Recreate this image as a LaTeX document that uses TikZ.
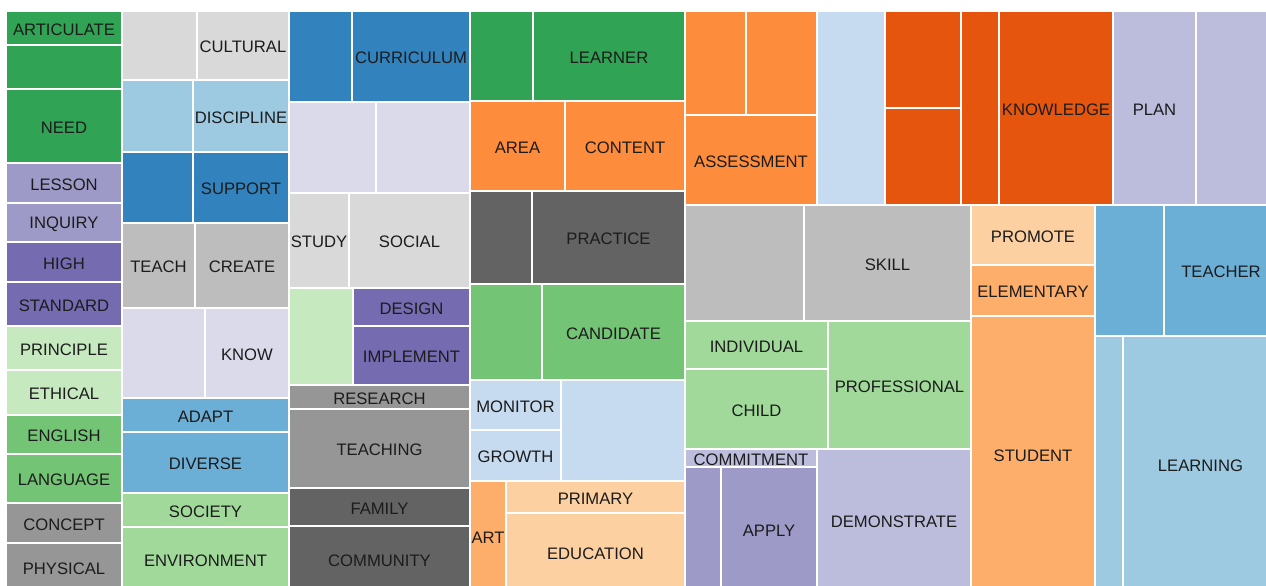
\documentclass[tikz,border=0pt]{standalone}
\usepackage{tikz}
\usepackage{xcolor}
\usepackage{fontspec}
\newfontfamily\arialfont{Liberation Sans}
\usetikzlibrary{backgrounds,calc,positioning}

\definecolor{bluA}{HTML}{3182BD}
\definecolor{bluB}{HTML}{6BAED6}
\definecolor{bluC}{HTML}{9ECAE1}
\definecolor{bluD}{HTML}{C6DBEF}
\definecolor{orgA}{HTML}{E6550D}
\definecolor{orgB}{HTML}{FD8D3C}
\definecolor{orgC}{HTML}{FDAE6B}
\definecolor{orgD}{HTML}{FDD0A2}
\definecolor{grnA}{HTML}{31A354}
\definecolor{grnB}{HTML}{74C476}
\definecolor{grnC}{HTML}{A1D99B}
\definecolor{grnD}{HTML}{C7E9C0}
\definecolor{purA}{HTML}{756BB1}
\definecolor{purB}{HTML}{9E9AC8}
\definecolor{purC}{HTML}{BCBDDC}
\definecolor{purD}{HTML}{DADAEB}
\definecolor{gryA}{HTML}{636363}
\definecolor{gryB}{HTML}{969696}
\definecolor{gryC}{HTML}{BDBDBD}
\definecolor{gryD}{HTML}{D9D9D9}
\definecolor{txtdark}{HTML}{1C1C1C}

\begin{document}
\begin{tikzpicture}[x=0.03cm, y=-0.03cm,
		cell/.style={draw=white, line width=0.9pt},
		lbl/.style={font=\arialfont\fontsize{14.2}{16}\selectfont, text=txtdark, inner sep=0pt, yshift=-1.2pt}]
		\useasboundingbox (0,0) rectangle (1266,585);
		\clip (0,0) rectangle (1266,585);
		\begin{scope}
			\draw[cell, fill=grnA] (6,11) rectangle (122,45);
			\draw[cell, fill=grnA] (6,45) rectangle (122,89);
			\draw[cell, fill=grnA] (6,89) rectangle (122,163);
			\draw[cell, fill=purB] (6,163) rectangle (122,203);
			\draw[cell, fill=purB] (6,203) rectangle (122,242);
			\draw[cell, fill=purA] (6,242) rectangle (122,282);
			\draw[cell, fill=purA] (6,282) rectangle (122,326);
			\draw[cell, fill=grnD] (6,326) rectangle (122,370);
			\draw[cell, fill=grnD] (6,370) rectangle (122,415);
			\draw[cell, fill=grnB] (6,415) rectangle (122,454);
			\draw[cell, fill=grnB] (6,454) rectangle (122,503);
			\draw[cell, fill=gryB] (6,503) rectangle (122,543);
			\draw[cell, fill=gryB] (6,543) rectangle (122,592);
			\node[lbl] (articulate) at (64,28) {ARTICULATE};
			\node[lbl] (need) at (64,126) {NEED};
			\node[lbl] (lesson) at (64,183) {LESSON};
			\node[lbl] (inquiry) at (64,222.5) {INQUIRY};
			\node[lbl] (high) at (64,262) {HIGH};
			\node[lbl] (standard) at (64,304) {STANDARD};
			\node[lbl] (principle) at (64,348) {PRINCIPLE};
			\node[lbl] (ethical) at (64,392.5) {ETHICAL};
			\node[lbl] (english) at (64,434.5) {ENGLISH};
			\node[lbl] (language) at (64,478.5) {LANGUAGE};
			\node[lbl] (concept) at (64,523) {CONCEPT};
			\node[lbl] (physical) at (64,567.5) {PHYSICAL};

			\draw[cell, fill=gryD] (122,11) rectangle (197,80);
			\draw[cell, fill=gryD] (197,11) rectangle (289,80);
			\draw[cell, fill=bluC] (122,80) rectangle (193,152);
			\draw[cell, fill=bluC] (193,80) rectangle (289,152);
			\draw[cell, fill=bluA] (122,152) rectangle (193,223);
			\draw[cell, fill=bluA] (193,152) rectangle (289,223);
			\draw[cell, fill=gryC] (122,223) rectangle (195,308);
			\draw[cell, fill=gryC] (195,223) rectangle (289,308);
			\draw[cell, fill=purD] (122,308) rectangle (205,398);
			\draw[cell, fill=purD] (205,308) rectangle (289,398);
			\draw[cell, fill=bluB] (122,398) rectangle (289,432);
			\draw[cell, fill=bluB] (122,432) rectangle (289,493);
			\draw[cell, fill=grnC] (122,493) rectangle (289,527);
			\draw[cell, fill=grnC] (122,527) rectangle (289,592);
			\node[lbl] (cultural) at (243,45.5) {CULTURAL};
			\node[lbl] (discipline) at (241,116) {DISCIPLINE};
			\node[lbl] (support) at (241,187.5) {SUPPORT};
			\node[lbl] (teach) at (158.5,265.5) {TEACH};
			\node[lbl] (create) at (242,265.5) {CREATE};
			\node[lbl] (know) at (247,353) {KNOW};
			\node[lbl] (adapt) at (205.5,415) {ADAPT};
			\node[lbl] (diverse) at (205.5,462.5) {DIVERSE};
			\node[lbl] (society) at (205.5,510) {SOCIETY};
			\node[lbl] (environment) at (205.5,559.5) {ENVIRONMENT};

			\draw[cell, fill=bluA] (289,11) rectangle (352,102);
			\draw[cell, fill=bluA] (352,11) rectangle (470,102);
			\draw[cell, fill=purD] (289,102) rectangle (376,193);
			\draw[cell, fill=purD] (376,102) rectangle (470,193);
			\draw[cell, fill=gryD] (289,193) rectangle (349,288);
			\draw[cell, fill=gryD] (349,193) rectangle (470,288);
			\draw[cell, fill=grnD] (289,288) rectangle (353,385);
			\draw[cell, fill=purA] (353,288) rectangle (470,326);
			\draw[cell, fill=purA] (353,326) rectangle (470,385);
			\draw[cell, fill=gryB] (289,385) rectangle (470,409);
			\draw[cell, fill=gryB] (289,409) rectangle (470,488);
			\draw[cell, fill=gryA] (289,488) rectangle (470,526);
			\draw[cell, fill=gryA] (289,526) rectangle (470,592);
			\node[lbl] (curriculum) at (411,56.5) {CURRICULUM};
			\node[lbl] (study) at (319,240.5) {STUDY};
			\node[lbl] (social) at (409.5,240.5) {SOCIAL};
			\node[lbl] (design) at (411.5,307) {DESIGN};
			\node[lbl] (implement) at (411.5,355.5) {IMPLEMENT};
			\node[lbl] (research) at (379.5,397) {RESEARCH};
			\node[lbl] (teaching) at (379.5,448.5) {TEACHING};
			\node[lbl] (family) at (379.5,507) {FAMILY};
			\node[lbl] (community) at (379.5,559) {COMMUNITY};

			\draw[cell, fill=grnA] (470,11) rectangle (533,101);
			\draw[cell, fill=grnA] (533,11) rectangle (685,101);
			\draw[cell, fill=orgB] (470,101) rectangle (565,191);
			\draw[cell, fill=orgB] (565,101) rectangle (685,191);
			\draw[cell, fill=gryA] (470,191) rectangle (532,284);
			\draw[cell, fill=gryA] (532,191) rectangle (685,284);
			\draw[cell, fill=grnB] (470,284) rectangle (542,380);
			\draw[cell, fill=grnB] (542,284) rectangle (685,380);
			\draw[cell, fill=bluD] (470,380) rectangle (561,430);
			\draw[cell, fill=bluD] (470,430) rectangle (561,481);
			\draw[cell, fill=bluD] (561,380) rectangle (685,481);
			\draw[cell, fill=orgC] (470,481) rectangle (506,592);
			\draw[cell, fill=orgD] (506,481) rectangle (685,513);
			\draw[cell, fill=orgD] (506,513) rectangle (685,592);
			\node[lbl] (learner) at (609,56) {LEARNER};
			\node[lbl] (area) at (517.5,146) {AREA};
			\node[lbl] (content) at (625,146) {CONTENT};
			\node[lbl] (practice) at (608.5,237.5) {PRACTICE};
			\node[lbl] (candidate) at (613.5,332) {CANDIDATE};
			\node[lbl] (monitor) at (515.5,405) {MONITOR};
			\node[lbl] (growth) at (515.5,455.5) {GROWTH};
			\node[lbl] (art) at (488,536.5) {ART};
			\node[lbl] (primary) at (595.5,497) {PRIMARY};
			\node[lbl] (education) at (595.5,552.5) {EDUCATION};

			\draw[cell, fill=orgB] (685,11) rectangle (746,115);
			\draw[cell, fill=orgB] (746,11) rectangle (817,115);
			\draw[cell, fill=orgB] (685,115) rectangle (817,205);
			\draw[cell, fill=bluD] (817,11) rectangle (885,205);
			\draw[cell, fill=orgA] (885,11) rectangle (961,108);
			\draw[cell, fill=orgA] (885,108) rectangle (961,205);
			\draw[cell, fill=orgA] (961,11) rectangle (999,205);
			\draw[cell, fill=orgA] (999,11) rectangle (1113,205);
			\draw[cell, fill=purC] (1113,11) rectangle (1196,205);
			\draw[cell, fill=purC] (1196,11) rectangle (1278,205);
			\node[lbl] (assessment) at (751,160) {ASSESSMENT};
			\node[lbl] (knowledge) at (1056,108) {KNOWLEDGE};
			\node[lbl] (plan) at (1154.5,108) {PLAN};

			\draw[cell, fill=gryC] (685,205) rectangle (804,321);
			\draw[cell, fill=gryC] (804,205) rectangle (971,321);
			\draw[cell, fill=grnC] (685,321) rectangle (828,369);
			\draw[cell, fill=grnC] (685,369) rectangle (828,449);
			\draw[cell, fill=grnC] (828,321) rectangle (971,449);
			\draw[cell, fill=purC] (685,449) rectangle (817,467);
			\draw[cell, fill=purB] (685,467) rectangle (721,592);
			\draw[cell, fill=purB] (721,467) rectangle (817,592);
			\draw[cell, fill=purC] (817,449) rectangle (971,592);
			\draw[cell, fill=orgD] (971,205) rectangle (1095,265);
			\draw[cell, fill=orgC] (971,265) rectangle (1095,316);
			\draw[cell, fill=orgC] (971,316) rectangle (1095,592);
			\draw[cell, fill=bluB] (1095,205) rectangle (1164,336);
			\draw[cell, fill=bluB] (1164,205) rectangle (1278,336);
			\draw[cell, fill=bluC] (1095,336) rectangle (1123,592);
			\draw[cell, fill=bluC] (1123,336) rectangle (1278,592);
			\node[lbl] (skill) at (887.5,263) {SKILL};
			\node[lbl] (individual) at (756.5,345) {INDIVIDUAL};
			\node[lbl] (child) at (756.5,409) {CHILD};
			\node[lbl] (professional) at (899.5,385) {PROFESSIONAL};
			\node[lbl] (commitment) at (751,458) {COMMITMENT};
			\node[lbl] (apply) at (769,529.5) {APPLY};
			\node[lbl] (demonstrate) at (894,520.5) {DEMONSTRATE};
			\node[lbl] (promote) at (1033,235) {PROMOTE};
			\node[lbl] (elementary) at (1033,290.5) {ELEMENTARY};
			\node[lbl] (student) at (1033,454) {STUDENT};
			\node[lbl] (teacher) at (1221,270.5) {TEACHER};
			\node[lbl] (learning) at (1200.5,464) {LEARNING};
		\end{scope}
	\end{tikzpicture}
\end{document}
